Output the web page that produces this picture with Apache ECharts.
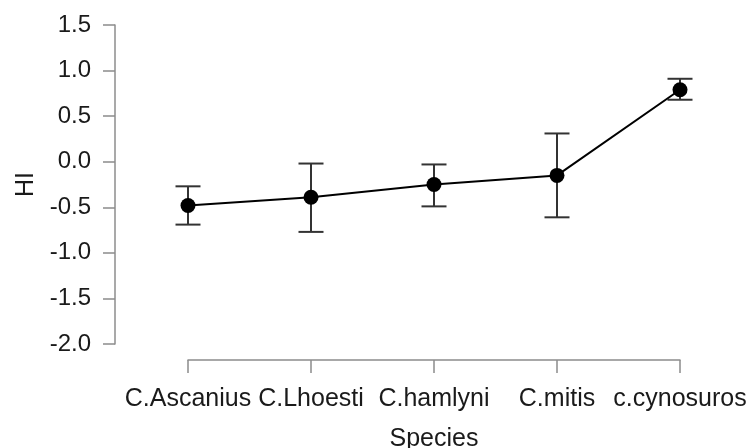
<!DOCTYPE html>
<html>
<head>
<meta charset="utf-8">
<script src="https://cdn.jsdelivr.net/npm/echarts@6/dist/echarts.min.js"></script>
<style>
  html, body { margin: 0; padding: 0; background: #fff; }
  #chart { width: 751px; height: 448px; }
</style>
</head>
<body>
<div id="chart"></div>
<script>
// species and HI values
var species = ['C.Ascanius', 'C.Lhoesti', 'C.hamlyni', 'C.mitis', 'c.cynosuros']
var hiMean = [-0.48, -0.39, -0.25, -0.15, 0.79]
var hiLower = [-0.69, -0.77, -0.49, -0.61, 0.68]
var hiUpper = [-0.27, -0.02, -0.03, 0.31, 0.91]
var yTicks = [-2.0, -1.5, -1.0, -0.5, 0.0, 0.5, 1.0, 1.5]

var textColor = '#1a1a1a'
var axisColor = '#8c8c8c'
var font = 'Liberation Sans'

function errorBar (params, api) {
  var x = api.value(0)
  var top = api.coord([x, api.value(2)])
  var bot = api.coord([x, api.value(1)])
  var half = 12.5
  var style = { stroke: '#333', lineWidth: 2 }
  return {
    type: 'group',
    children: [
      { type: 'line', shape: { x1: top[0], y1: top[1], x2: bot[0], y2: bot[1] }, style: style },
      { type: 'line', shape: { x1: top[0] - half, y1: top[1], x2: top[0] + half, y2: top[1] }, style: style },
      { type: 'line', shape: { x1: bot[0] - half, y1: bot[1], x2: bot[0] + half, y2: bot[1] }, style: style }
    ]
  }
}

var chart = echarts.init(document.getElementById('chart'), null, { renderer: 'canvas' })
var option = {
  animation: false,
  backgroundColor: '#fff',
  grid: { left: 188, right: 71, top: 25, bottom: 104, containLabel: false, outerBoundsMode: 'none' },
  xAxis: {
    type: 'value',
    min: 0,
    max: species.length - 1,
    interval: 1,
    offset: 16,
    name: 'Species',
    nameLocation: 'middle',
    nameGap: 67,
    nameTextStyle: { fontFamily: font, fontSize: 25, color: textColor },
    axisLine: { show: true, onZero: false, lineStyle: { color: axisColor, width: 1.5 } },
    axisTick: { show: true, length: 13, lineStyle: { color: axisColor, width: 1.5 } },
    axisLabel: {
      margin: 27,
      fontFamily: font,
      fontSize: 25,
      color: textColor,
      formatter: function (v) { return species[v] || '' }
    },
    splitLine: { show: false }
  },
  yAxis: {
    type: 'value',
    min: yTicks[0],
    max: yTicks[yTicks.length - 1],
    interval: 0.5,
    offset: 73,
    name: 'HI',
    nameLocation: 'middle',
    nameRotate: 90,
    nameGap: 75,
    nameTextStyle: { fontFamily: font, fontSize: 25, color: textColor },
    axisLine: { show: true, onZero: false, lineStyle: { color: axisColor, width: 1.5 } },
    axisTick: { show: true, length: 12, lineStyle: { color: axisColor, width: 1.5 } },
    axisLabel: {
      margin: 24,
      fontFamily: font,
      fontSize: 24,
      color: textColor,
      formatter: function (v) { return v.toFixed(1) }
    },
    splitLine: { show: false }
  },
  series: [
    {
      type: 'custom',
      renderItem: errorBar,
      clip: false,
      z: 1,
      data: species.map(function (s, i) { return [i, hiLower[i], hiUpper[i]] })
    },
    {
      type: 'line',
      z: 2,
      data: hiMean.map(function (v, i) { return [i, v] }),
      symbol: 'circle',
      symbolSize: 15,
      showSymbol: true,
      clip: false,
      itemStyle: { color: '#000' },
      lineStyle: { color: '#000', width: 2 }
    }
  ]
}
chart.setOption(option)
</script>
</body>
</html>
